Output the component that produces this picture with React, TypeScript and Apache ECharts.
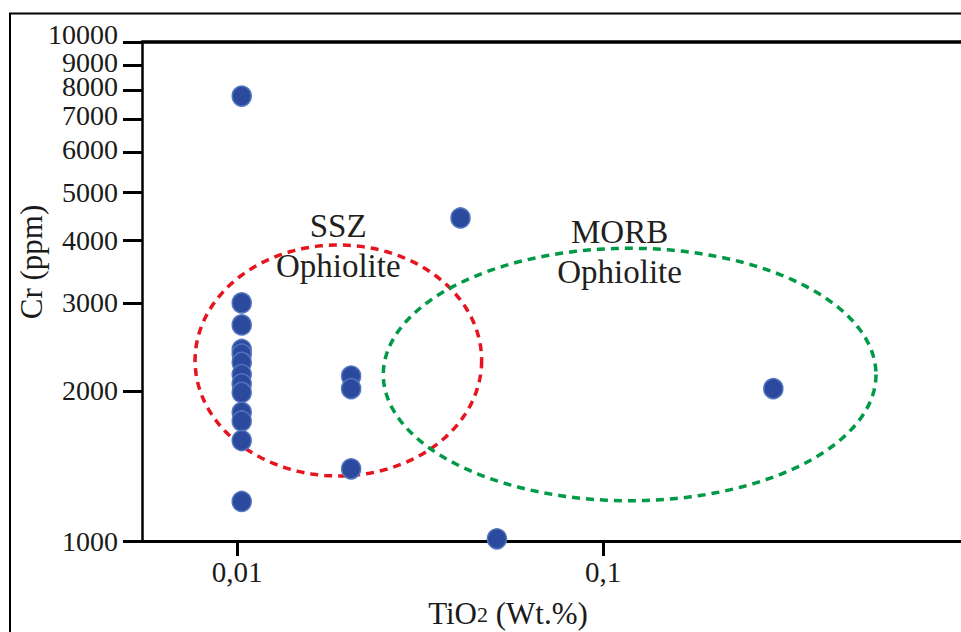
import React, { useEffect, useRef } from "react";
import * as echarts from "echarts";

const FONT = '"Liberation Serif", "Times New Roman", serif';

// Samples: TiO2 (wt.%) and Cr (ppm)
const tio2Values = [
  0.0103, 0.0103, 0.0103, 0.0103, 0.0103, 0.0103, 0.0103, 0.0103, 0.0103, 0.0103, 0.0103, 0.0103, 0.0103,
  0.0205, 0.0205, 0.0205,
  0.0408, 0.0513, 0.292,
];
const crValues = [
  7790, 3000, 2710, 2420, 2370, 2280, 2155, 2065, 1985, 1810, 1740, 1590, 1200,
  2140, 2020, 1395,
  4440, 1010, 2020,
];

const xTickValues = [0.01, 0.1];
const yTickValues = [1000, 2000, 3000, 4000, 5000, 6000, 7000, 8000, 9000, 10000];
// labels split over two axes so that the crowded 9000 label is not dropped
const yLabelValuesA = [1000, 2000, 3000, 4000, 5000, 6000, 7000, 8000, 10000];
const yLabelValuesB = [9000];

// Discrimination fields (ellipses) in data space
const fieldNames = ["SSZ\nOphiolite", "MORB\nOphiolite"];
const fieldTiO2Min = [0.00768, 0.0251];
const fieldTiO2Max = [0.0466, 0.557];
const fieldCrMin = [1350, 1204];
const fieldCrMax = [3920, 3860];
const fieldLabelTiO2 = [0.0189, 0.111];
const fieldLabelCr = [3910, 3800];
const fieldColors = ["#e5141f", "#009a47"];

export default function App() {
  const ref = useRef<HTMLDivElement>(null);

  useEffect(() => {
    const chart = echarts.init(ref.current!, null, { renderer: "svg" });
    const fmtX = (v: number) => String(Number(v.toPrecision(6))).replace(".", ",");
    // crowded top labels sit slightly above their ticks, as in the original
    const lift: Record<number, string> = { 10000: "l8", 9000: "l2", 8000: "l4", 7000: "l4", 6000: "l3" };
    const base = { fontSize: 28, fontFamily: FONT, color: "#1a1a1a" };
    const yLabelStyle = {
      formatter: (v: number) => {
        const r = Math.round(v);
        const k = lift[r];
        return k ? `{${k}|${r}}` : `{n|${r}}`;
      },
      rich: {
        n: { ...base },
        l2: { ...base, padding: [0, 0, 4, 0] },
        l3: { ...base, padding: [0, 0, 6, 0] },
        l4: { ...base, padding: [0, 0, 8, 0] },
        l8: { ...base, padding: [0, 0, 16, 0] },
      },
      ...base,
      margin: 24,
      hideOverlap: false,
    };
    chart.setOption({
      animation: false,
      backgroundColor: "#ffffff",
      grid: {
        left: 142,
        top: 42,
        width: 827,
        height: 499,
        show: false,
        containLabel: false,
        outerBoundsMode: "none",
      },
      xAxis: [
        {
          type: "log",
          logBase: 10,
          min: 0.0055,
          max: 1,
          position: "bottom",
          axisLine: { show: true, onZero: false, lineStyle: { color: "#000", width: 3 } },
          axisTick: {
            show: true,
            inside: false,
            length: 15,
            lineStyle: { color: "#000", width: 3 },
            customValues: xTickValues,
          },
          minorTick: { show: false },
          axisLabel: {
            customValues: xTickValues,
            formatter: (v: number) => fmtX(v),
            fontSize: 29,
            fontFamily: FONT,
            color: "#1a1a1a",
            margin: 16,
          },
          splitLine: { show: false },
        },
        {
          type: "log",
          logBase: 10,
          min: 0.0055,
          max: 1,
          position: "top",
          axisLine: { show: true, onZero: false, lineStyle: { color: "#000", width: 3.5 } },
          axisTick: { show: false },
          minorTick: { show: false },
          axisLabel: { show: false },
          splitLine: { show: false },
        },
      ],
      yAxis: [
        {
          type: "log",
          logBase: 10,
          min: 1000,
          max: 10000,
          position: "left",
          offset: 0,
          axisLine: { show: true, onZero: false, lineStyle: { color: "#000", width: 2.5 } },
          axisTick: {
            show: true,
            inside: false,
            length: 19,
            lineStyle: { color: "#000", width: 3 },
            customValues: yTickValues,
          },
          minorTick: { show: false },
          axisLabel: { ...yLabelStyle, customValues: yLabelValuesA },
          splitLine: { show: false },
        },
        {
          type: "log",
          logBase: 10,
          min: 1000,
          max: 10000,
          position: "left",
          offset: 0,
          axisLine: { show: false, onZero: false },
          axisTick: { show: false },
          minorTick: { show: false },
          axisLabel: { ...yLabelStyle, customValues: yLabelValuesB },
          splitLine: { show: false },
        },
      ],
      graphic: [
        {
          type: "line",
          silent: true,
          shape: { x1: 9, y1: 13.5, x2: 961, y2: 13.5 },
          style: { stroke: "#000", lineWidth: 2 },
        },
        {
          type: "line",
          silent: true,
          shape: { x1: 10, y1: 13, x2: 10, y2: 632 },
          style: { stroke: "#000", lineWidth: 2 },
        },
        {
          // the plot continues past the right edge of the picture: keep that edge open
          type: "rect",
          silent: true,
          z: 100,
          shape: { x: 946, y: 45, width: 20, height: 493 },
          style: { fill: "#ffffff" },
        },
        {
          type: "text",
          silent: true,
          x: 31,
          y: 262,
          rotation: Math.PI / 2,
          style: {
            text: "Cr (ppm)",
            font: `31px ${FONT}`,
            fill: "#1a1a1a",
            align: "center",
            verticalAlign: "middle",
          },
        },
        {
          type: "text",
          silent: true,
          x: 508,
          y: 613,
          style: {
            text: "{a|TiO}{b|2}{a| (Wt.%)}",
            rich: {
              a: { fontSize: 31, fontFamily: FONT, fill: "#1a1a1a" },
              b: {
                fontSize: 22,
                fontFamily: FONT,
                fill: "#1a1a1a",
                verticalAlign: "bottom",
                padding: [0, 0, 3, 0],
              },
            },
            align: "center",
            verticalAlign: "middle",
          },
        },
      ],
      series: [
        {
          type: "custom",
          coordinateSystem: "cartesian2d",
          xAxisIndex: 0,
          yAxisIndex: 0,
          silent: true,
          z: 1,
          data: fieldNames.map((_, i) => [
            fieldTiO2Min[i],
            fieldTiO2Max[i],
            fieldCrMin[i],
            fieldCrMax[i],
            fieldLabelTiO2[i],
            fieldLabelCr[i],
            i,
          ]),
          encode: { x: [0, 1], y: [2, 3] },
          renderItem: (params: any, api: any) => {
            const i = api.value(6);
            const a = api.coord([api.value(0), api.value(2)]);
            const b = api.coord([api.value(1), api.value(3)]);
            const cx = (a[0] + b[0]) / 2;
            const cy = (a[1] + b[1]) / 2;
            const rx = Math.abs(b[0] - a[0]) / 2;
            const ry = Math.abs(a[1] - b[1]) / 2;
            const pts: number[][] = [];
            const n = 200;
            for (let k = 0; k < n; k++) {
              const t = (k / n) * Math.PI * 2;
              pts.push([cx + rx * Math.cos(t), cy + ry * Math.sin(t)]);
            }
            const lp = api.coord([api.value(4), api.value(5)]);
            return {
              type: "group",
              children: [
                {
                  type: "polygon",
                  shape: { points: pts },
                  style: {
                    fill: "none",
                    stroke: fieldColors[i],
                    lineWidth: 3.5,
                    lineDash: [8, 6],
                  },
                },
                {
                  type: "text",
                  x: lp[0],
                  y: lp[1],
                  style: {
                    text: fieldNames[i],
                    font: `33px ${FONT}`,
                    fill: "#231f20",
                    align: "center",
                    verticalAlign: "middle",
                    lineHeight: 40,
                  },
                },
              ],
            };
          },
        },
        {
          type: "scatter",
          xAxisIndex: 0,
          yAxisIndex: 0,
          z: 3,
          symbol: "circle",
          symbolSize: [19, 20],
          data: tio2Values.map((x, i) => [x, crValues[i]]),
          itemStyle: {
            color: "#2c4a9d",
            borderColor: "#5275bf",
            borderWidth: 1.5,
            opacity: 1,
          },
        },
      ],
    });
    return () => chart.dispose();
  }, []);

  return (
    <div
      ref={ref}
      style={{
        position: "fixed",
        left: 0,
        top: 0,
        width: 961,
        height: 632,
        background: "#fff",
      }}
    />
  );
}
